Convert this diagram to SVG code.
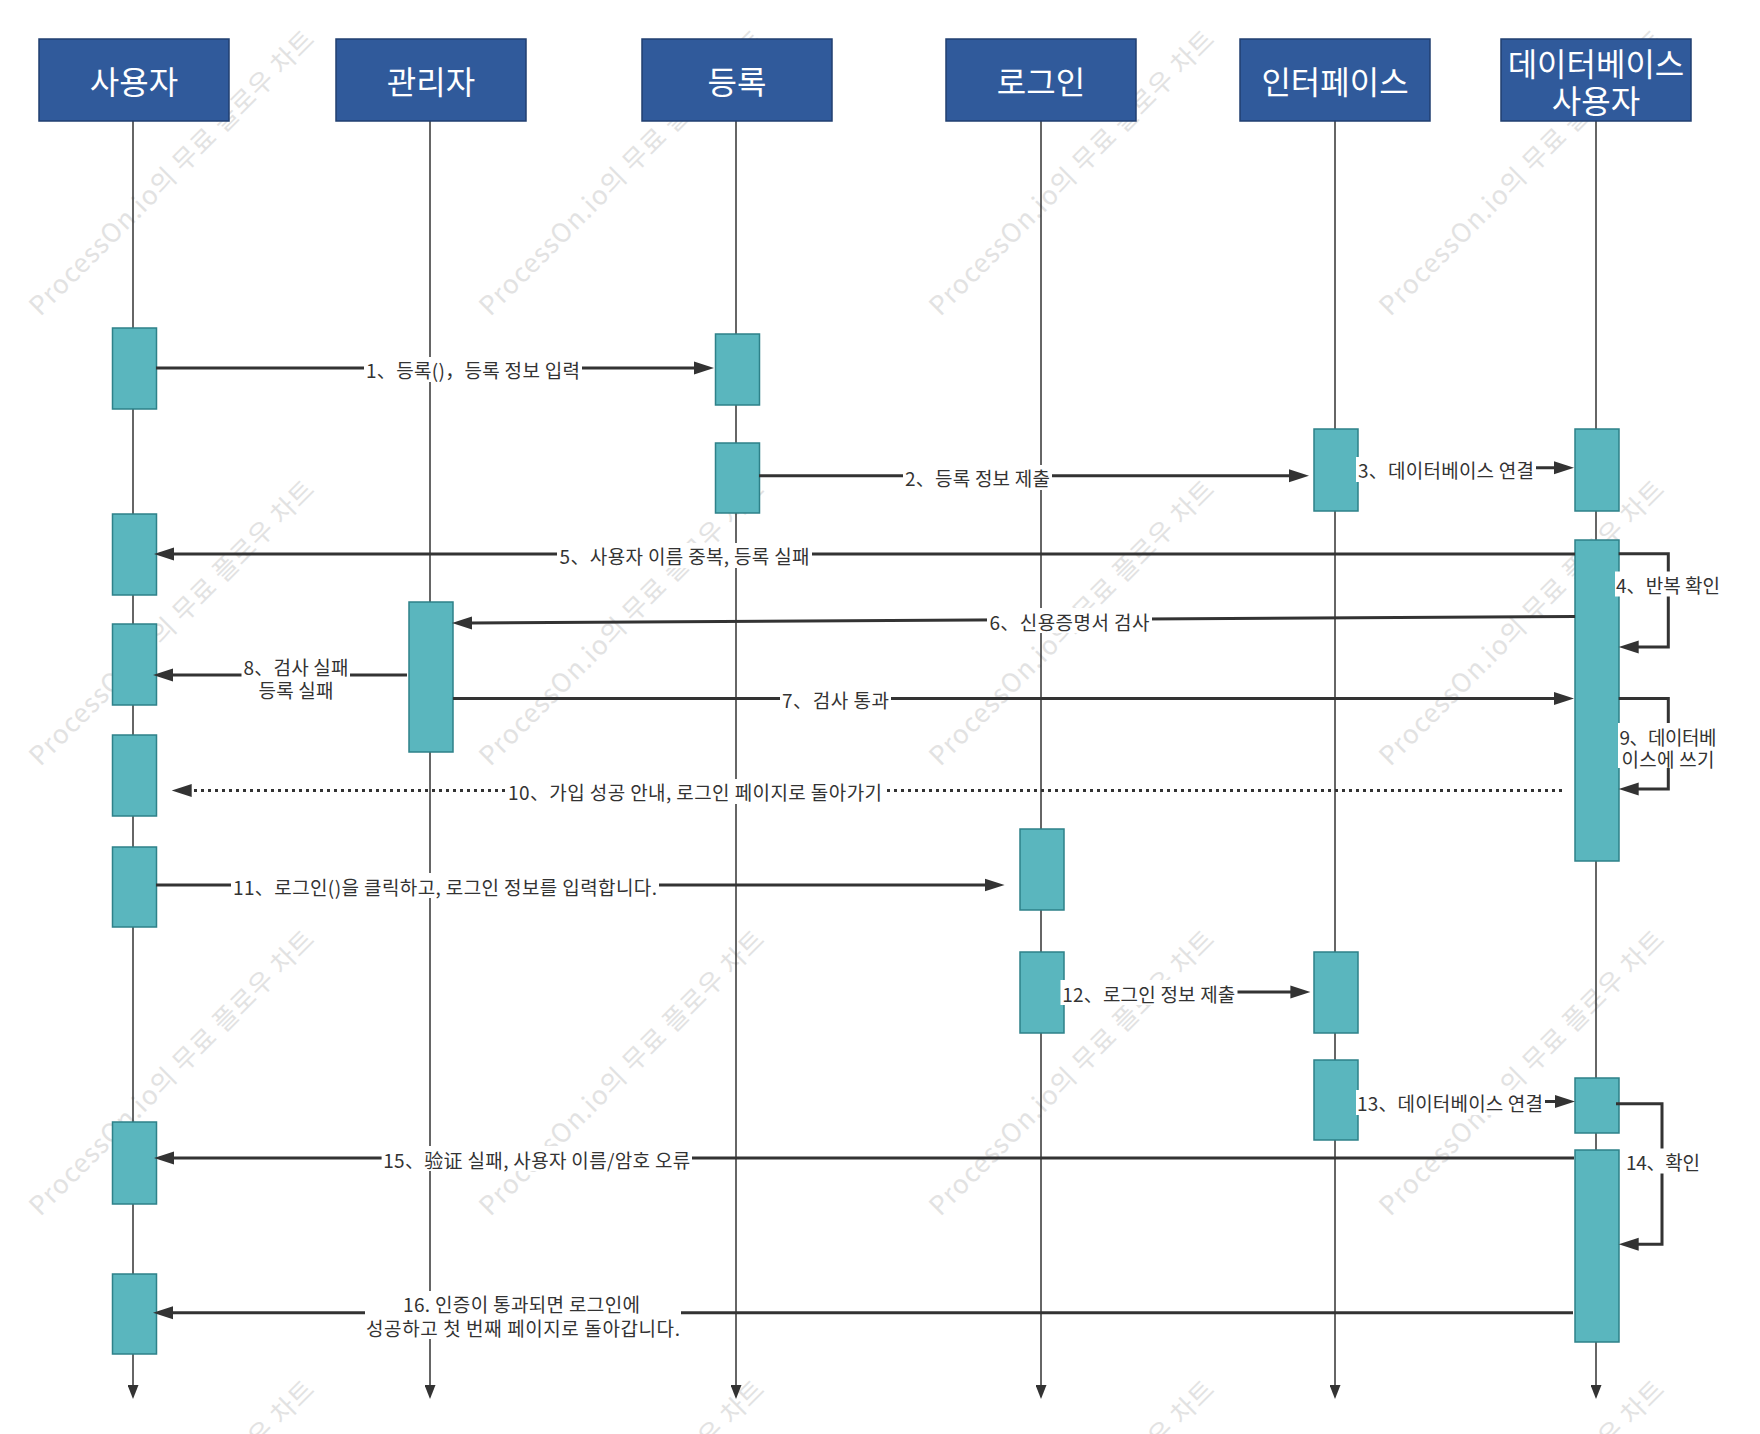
<svg xmlns="http://www.w3.org/2000/svg" width="1760" height="1434" viewBox="0 0 1760 1434">
<style>
.wm{font-family:"Noto Sans CJK KR","Noto Sans",sans-serif;font-size:26px;fill:#e2e2e2;text-anchor:middle;dominant-baseline:central}
.hdr rect{fill:#305A9B;stroke:#203F70;stroke-width:1.5}
.hdr text{font-family:"Noto Sans CJK KR","Noto Sans",sans-serif;font-size:32px;fill:#ffffff;text-anchor:middle;dominant-baseline:central}
.life{stroke:#333;stroke-width:1.5;fill:none}
.act{fill:#5AB6BE;stroke:#2E8189;stroke-width:1.5}
.msg{stroke:#333;stroke-width:3;fill:none}
.dot{stroke:#333;stroke-width:3;fill:none;stroke-dasharray:3 4}
.bg{fill:#ffffff}
.lbl{font-family:"Noto Sans CJK KR","Noto Sans",sans-serif;font-size:19px;fill:#333;text-anchor:middle;dominant-baseline:central}
</style>
<defs>
<marker id="arr" markerUnits="userSpaceOnUse" viewBox="0 0 22 14" markerWidth="22" markerHeight="14" refX="2" refY="7" orient="auto"><path d="M0,0.5 L20,7 L0,13.5 z" fill="#333"/></marker>
<marker id="ll" markerUnits="userSpaceOnUse" viewBox="0 0 14 11" markerWidth="14" markerHeight="11" refX="2" refY="5.5" orient="auto"><path d="M0,0 L14,5.5 L0,11 z" fill="#333"/></marker>
</defs>
<rect width="1760" height="1434" fill="#ffffff"/>
<g id="watermarks">
<text class="wm" transform="translate(170,171) rotate(-45)" textLength="390">ProcessOn.io의 무료 플로우 차트</text>
<text class="wm" transform="translate(620,171) rotate(-45)" textLength="390">ProcessOn.io의 무료 플로우 차트</text>
<text class="wm" transform="translate(1070,171) rotate(-45)" textLength="390">ProcessOn.io의 무료 플로우 차트</text>
<text class="wm" transform="translate(1520,171) rotate(-45)" textLength="390">ProcessOn.io의 무료 플로우 차트</text>
<text class="wm" transform="translate(170,621) rotate(-45)" textLength="390">ProcessOn.io의 무료 플로우 차트</text>
<text class="wm" transform="translate(620,621) rotate(-45)" textLength="390">ProcessOn.io의 무료 플로우 차트</text>
<text class="wm" transform="translate(1070,621) rotate(-45)" textLength="390">ProcessOn.io의 무료 플로우 차트</text>
<text class="wm" transform="translate(1520,621) rotate(-45)" textLength="390">ProcessOn.io의 무료 플로우 차트</text>
<text class="wm" transform="translate(170,1071) rotate(-45)" textLength="390">ProcessOn.io의 무료 플로우 차트</text>
<text class="wm" transform="translate(620,1071) rotate(-45)" textLength="390">ProcessOn.io의 무료 플로우 차트</text>
<text class="wm" transform="translate(1070,1071) rotate(-45)" textLength="390">ProcessOn.io의 무료 플로우 차트</text>
<text class="wm" transform="translate(1520,1071) rotate(-45)" textLength="390">ProcessOn.io의 무료 플로우 차트</text>
<text class="wm" transform="translate(170,1521) rotate(-45)" textLength="390">ProcessOn.io의 무료 플로우 차트</text>
<text class="wm" transform="translate(620,1521) rotate(-45)" textLength="390">ProcessOn.io의 무료 플로우 차트</text>
<text class="wm" transform="translate(1070,1521) rotate(-45)" textLength="390">ProcessOn.io의 무료 플로우 차트</text>
<text class="wm" transform="translate(1520,1521) rotate(-45)" textLength="390">ProcessOn.io의 무료 플로우 차트</text>
</g>
<g id="lifelines">
<line class="life" x1="133" y1="121" x2="133" y2="1387" marker-end="url(#ll)"/>
<line class="life" x1="430" y1="121" x2="430" y2="1387" marker-end="url(#ll)"/>
<line class="life" x1="736" y1="121" x2="736" y2="1387" marker-end="url(#ll)"/>
<line class="life" x1="1041" y1="121" x2="1041" y2="1387" marker-end="url(#ll)"/>
<line class="life" x1="1335" y1="121" x2="1335" y2="1387" marker-end="url(#ll)"/>
<line class="life" x1="1596" y1="121" x2="1596" y2="1387" marker-end="url(#ll)"/>
</g>
<g id="node-user" class="hdr"><rect x="39" y="39" width="190" height="82"/><text x="134" y="80">사용자</text></g>
<g id="node-admin" class="hdr"><rect x="336" y="39" width="190" height="82"/><text x="431" y="80">관리자</text></g>
<g id="node-register" class="hdr"><rect x="642" y="39" width="190" height="82"/><text x="737" y="80">등록</text></g>
<g id="node-login" class="hdr"><rect x="946" y="39" width="190" height="82"/><text x="1041" y="80">로그인</text></g>
<g id="node-interface" class="hdr"><rect x="1240" y="39" width="190" height="82"/><text x="1335" y="80">인터페이스</text></g>
<g id="node-dbuser" class="hdr"><rect x="1501" y="39" width="190" height="82"/><text><tspan x="1596" y="62">데이터베이스</tspan><tspan x="1596" y="99">사용자</tspan></text></g>
<g id="activations">
<rect class="act" x="112.5" y="328" width="44" height="81"/>
<rect class="act" x="112.5" y="514" width="44" height="81"/>
<rect class="act" x="112.5" y="624" width="44" height="81"/>
<rect class="act" x="112.5" y="735" width="44" height="81"/>
<rect class="act" x="112.5" y="847" width="44" height="80"/>
<rect class="act" x="112.5" y="1122" width="44" height="82"/>
<rect class="act" x="112.5" y="1274" width="44" height="80"/>
<rect class="act" x="409" y="602" width="44" height="150"/>
<rect class="act" x="715.5" y="334" width="44" height="71"/>
<rect class="act" x="715.5" y="443" width="44" height="70"/>
<rect class="act" x="1020" y="829" width="44" height="81"/>
<rect class="act" x="1020" y="952" width="44" height="81"/>
<rect class="act" x="1314" y="429" width="44" height="82"/>
<rect class="act" x="1314" y="952" width="44" height="81"/>
<rect class="act" x="1314" y="1060" width="44" height="80"/>
<rect class="act" x="1575" y="429" width="44" height="82"/>
<rect class="act" x="1575" y="540" width="44" height="321"/>
<rect class="act" x="1575" y="1078" width="44" height="55"/>
<rect class="act" x="1575" y="1150" width="44" height="192"/>
</g>
<g id="connectors">
<path class="msg" d="M156,368 H696" marker-end="url(#arr)"/>
<path class="msg" d="M759,475.7 H1291" marker-end="url(#arr)"/>
<path class="msg" d="M1357.5,467.7 H1556" marker-end="url(#arr)"/>
<path class="msg" d="M1575,554 H172" marker-end="url(#arr)"/>
<path class="msg" d="M1618.7,553.7 H1668.3 V647 H1636.7" marker-end="url(#arr)"/>
<path class="msg" d="M1575,616.5 L470,622.9" marker-end="url(#arr)"/>
<path class="msg" d="M453,698.5 H1556" marker-end="url(#arr)"/>
<path class="msg" d="M407,675 H171" marker-end="url(#arr)"/>
<path class="msg" d="M1618.7,698.5 H1668.3 V789 H1636.7" marker-end="url(#arr)"/>
<path class="dot" d="M1562,790.5 H189.7" marker-end="url(#arr)"/>
<path class="msg" d="M156,885 H986.6" marker-end="url(#arr)"/>
<path class="msg" d="M1063.5,992 H1292.4" marker-end="url(#arr)"/>
<path class="msg" d="M1357.5,1101.5 H1557" marker-end="url(#arr)"/>
<path class="msg" d="M1616,1103.7 H1662 V1244.3 H1636.7" marker-end="url(#arr)"/>
<path class="msg" d="M1574,1158 H172" marker-end="url(#arr)"/>
<path class="msg" d="M1573,1312.7 H171" marker-end="url(#arr)"/>
</g>
<g id="labels">
<rect class="bg" x="364" y="357" width="218" height="25"/><text class="lbl" x="473" y="369.5" textLength="214">1、등록()，등록 정보 입력</text>
<rect class="bg" x="903" y="465" width="149" height="25"/><text class="lbl" x="977.5" y="477.5" textLength="145">2、등록 정보 제출</text>
<rect class="bg" x="1356" y="457" width="180" height="25"/><text class="lbl" x="1446" y="469.5" textLength="176">3、데이터베이스 연결</text>
<rect class="bg" x="1615" y="571.5" width="106" height="25"/><text class="lbl" x="1668" y="584" textLength="104">4、반복 확인</text>
<rect class="bg" x="557" y="543" width="255" height="25"/><text class="lbl" x="684.6" y="555.5" textLength="250">5、사용자 이름 중복, 등록 실패</text>
<rect class="bg" x="987" y="608" width="165" height="25"/><text class="lbl" x="1069.4" y="621" textLength="160">6、신용증명서 검사</text>
<rect class="bg" x="780" y="686" width="111" height="25"/><text class="lbl" x="835.5" y="699.5" textLength="107">7、검사 통과</text>
<rect class="bg" x="241.5" y="654" width="108.5" height="46"/><text class="lbl"><tspan x="296" y="665.5" textLength="105">8、검사 실패</tspan><tspan x="296" y="689" textLength="75">등록 실패</tspan></text>
<rect class="bg" x="1618" y="723" width="100" height="45"/><text class="lbl"><tspan x="1668" y="735.5" textLength="97">9、데이터베</tspan><tspan x="1668" y="757.5" textLength="93">이스에 쓰기</tspan></text>
<rect class="bg" x="506" y="779" width="378" height="25"/><text class="lbl" x="695" y="791.5" textLength="374">10、가입 성공 안내, 로그인 페이지로 돌아가기</text>
<rect class="bg" x="231" y="873" width="428" height="25"/><text class="lbl" x="445" y="886" textLength="424">11、로그인()을 클릭하고, 로그인 정보를 입력합니다.</text>
<rect class="bg" x="1060.5" y="980" width="177" height="25"/><text class="lbl" x="1148.8" y="993" textLength="173">12、로그인 정보 제출</text>
<rect class="bg" x="1356" y="1090" width="189" height="25"/><text class="lbl" x="1450" y="1102.5" textLength="186">13、데이터베이스 연결</text>
<rect class="bg" x="1624.5" y="1148.5" width="77" height="25"/><text class="lbl" x="1663" y="1161" textLength="74">14、확인</text>
<rect class="bg" x="381.6" y="1146" width="310.4" height="25"/><text class="lbl" x="536.7" y="1159" textLength="307">15、验证 실패, 사용자 이름/암호 오류</text>
<rect class="bg" x="365" y="1291" width="316" height="48"/><text class="lbl"><tspan x="521.5" y="1303" textLength="237">16. 인증이 통과되면 로그인에</tspan><tspan x="523" y="1327" textLength="314">성공하고 첫 번째 페이지로 돌아갑니다.</tspan></text>
</g>
</svg>
